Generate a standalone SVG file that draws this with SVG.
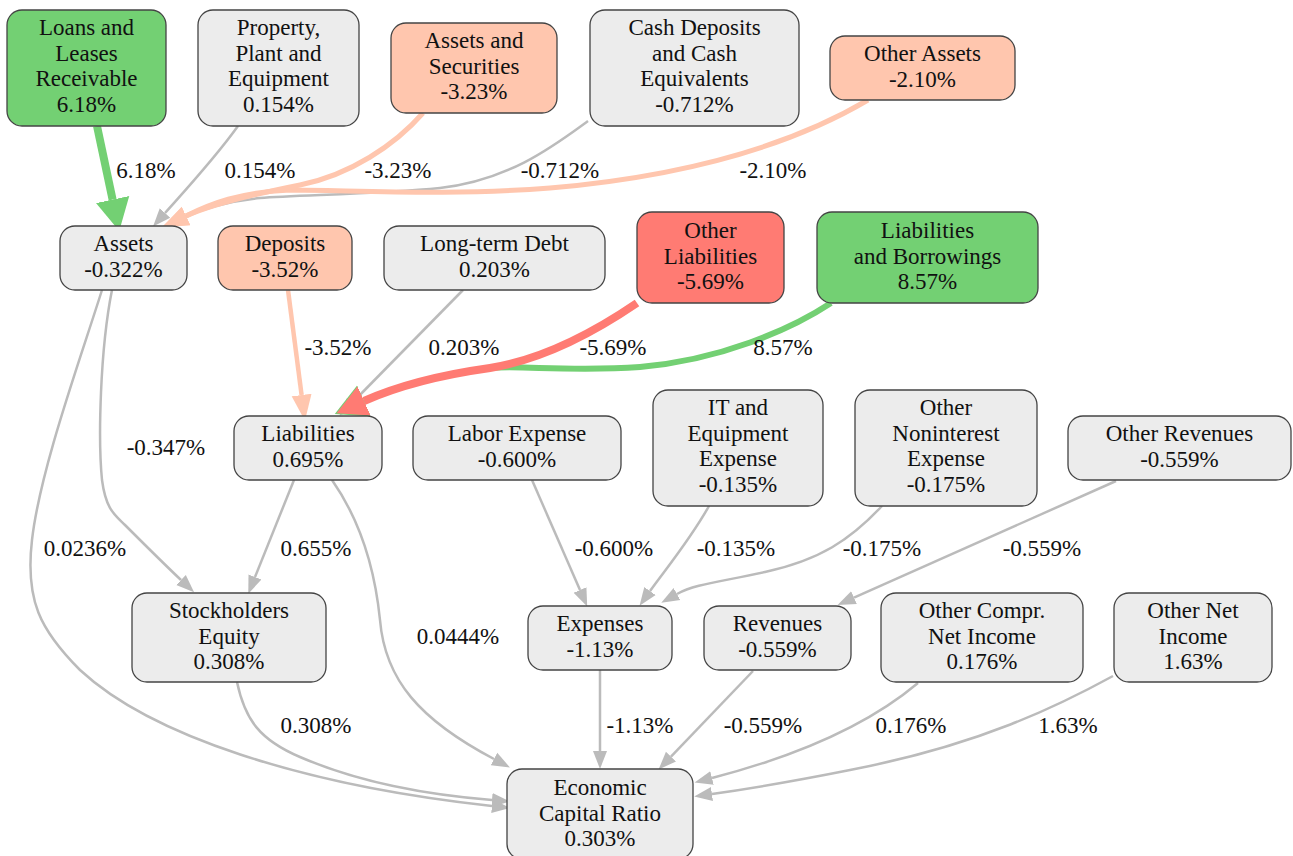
<svg xmlns="http://www.w3.org/2000/svg" width="1293" height="856" viewBox="0 0 1293 856" font-family="'Liberation Serif', 'DejaVu Serif', serif">
<style>
.n rect{stroke:#444;stroke-width:1.3}
.g rect{fill:#ececec}
.gr rect{fill:#73d073}
.sa rect{fill:#ffc6ae}
.rd rect{fill:#ff7b73}
text{font-family:'Liberation Serif','DejaVu Serif',serif;font-size:23px;fill:#111;text-anchor:middle}
.e path{fill:none}
.eg{stroke:#bbbbbb;stroke-width:2.5}
.es{stroke:#ffc6ae}
.egr{stroke:#73d073}
.erd{stroke:#ff7b73}
</style>
<defs>
<marker id="mg" markerUnits="userSpaceOnUse" viewBox="0 -8 19 16" markerWidth="19" markerHeight="16" refX="0" refY="0" orient="auto"><polygon points="0,-7 18,0 0,7" fill="#bbbbbb"/></marker>
<marker id="ms" markerUnits="userSpaceOnUse" viewBox="0 -12 27 24" markerWidth="27" markerHeight="24" refX="0" refY="0" orient="auto"><polygon points="0,-10 26,0 0,10" fill="#ffc6ae"/></marker>
<marker id="mgr" markerUnits="userSpaceOnUse" viewBox="0 -18 33 36" markerWidth="33" markerHeight="36" refX="0" refY="0" orient="auto"><polygon points="0,-17 32,0 0,17" fill="#73d073"/></marker>
<marker id="mrd" markerUnits="userSpaceOnUse" viewBox="0 -17 31 34" markerWidth="31" markerHeight="34" refX="0" refY="0" orient="auto"><polygon points="0,-16 30,0 0,16" fill="#ff7b73"/></marker>
</defs>

<g id="connectors" class="e">
<path class="eg" d="M588,121 C555,145 510,180 440,188 C380,194 300,195 260,198 C230,201 205,208 184,217" marker-end="url(#mg)"/>
<path class="es" stroke-width="5" d="M868,100 C800,140 700,175 550,188 C450,196 350,190 290,190 C240,192 210,204 186,216" marker-end="url(#ms)"/>
<path class="es" stroke-width="5" d="M423,113 C395,145 350,175 300,185 C260,193 215,203 186,216" marker-end="url(#ms)"/>
<path class="eg" d="M238,126 C215,158 190,185 165,213" marker-end="url(#mg)"/>
<path class="egr" stroke-width="8" d="M97,126 L112.6,199.6" marker-end="url(#mgr)"/>
<path class="es" stroke-width="4.5" d="M288,290 L301.6,395" marker-end="url(#ms)"/>
<path class="eg" d="M463,290 L352,403" marker-end="url(#mg)"/>
<path class="egr" stroke-width="6" d="M831,303 C790,330 720,360 640,367 C570,372 520,365 490,368 C440,375 400,385 364,401" marker-end="url(#mgr)"/>
<path class="erd" stroke-width="8" d="M637,303 C590,335 540,360 490,368 C440,375 400,385 364,401" marker-end="url(#mrd)"/>
<path class="eg" d="M112,290 C100,350 98,440 102,480 C106,510 115,515 125,525 C145,545 163,563 181,580" marker-end="url(#mg)"/>
<path class="eg" d="M102,290 C80,360 40,470 32,540 C25,600 40,630 80,670 C150,735 300,785 492,806" marker-end="url(#mg)"/>
<path class="eg" d="M294,480 L255,577" marker-end="url(#mg)"/>
<path class="eg" d="M332,480 C360,520 375,570 380,620 C385,680 420,720 494,759" marker-end="url(#mg)"/>
<path class="eg" d="M237,682 C245,720 260,740 300,757 C360,783 430,795 492,800" marker-end="url(#mg)"/>
<path class="eg" d="M532,480 L580,590" marker-end="url(#mg)"/>
<path class="eg" d="M709,506 C690,540 665,570 650,591" marker-end="url(#mg)"/>
<path class="eg" d="M882,506 C850,540 820,560 765,572 C720,582 695,584 677,594" marker-end="url(#mg)"/>
<path class="eg" d="M1116,481 L854,597.6" marker-end="url(#mg)"/>
<path class="eg" d="M600,670 L600,751" marker-end="url(#mg)"/>
<path class="eg" d="M753,671 L671,756.6" marker-end="url(#mg)"/>
<path class="eg" d="M918,683 C880,715 820,750 712,778" marker-end="url(#mg)"/>
<path class="eg" d="M1113,676 C1060,705 980,745 850,770 C790,782 740,790 712,794" marker-end="url(#mg)"/>
<text x="146" y="177.5">6.18%</text>
<text x="260" y="177.5">0.154%</text>
<text x="398" y="177.5">-3.23%</text>
<text x="560" y="177.5">-0.712%</text>
<text x="773" y="177.5">-2.10%</text>
<text x="338" y="354.5">-3.52%</text>
<text x="464" y="354.5">0.203%</text>
<text x="613" y="354.5">-5.69%</text>
<text x="783" y="354.5">8.57%</text>
<text x="166" y="454.5">-0.347%</text>
<text x="85" y="555.5">0.0236%</text>
<text x="316" y="555.5">0.655%</text>
<text x="614" y="555.5">-0.600%</text>
<text x="736" y="555.5">-0.135%</text>
<text x="882" y="555.5">-0.175%</text>
<text x="1042" y="555.5">-0.559%</text>
<text x="458" y="643.5">0.0444%</text>
<text x="316" y="732.5">0.308%</text>
<text x="640" y="732.5">-1.13%</text>
<text x="763" y="732.5">-0.559%</text>
<text x="911" y="732.5">0.176%</text>
<text x="1068" y="732.5">1.63%</text>
</g>

<g id="loans" class="n gr"><rect x="7" y="10" width="159" height="116" rx="15"/><text><tspan x="86.5" y="35">Loans and</tspan><tspan x="86.5" y="60.6">Leases</tspan><tspan x="86.5" y="86.2">Receivable</tspan><tspan x="86.5" y="111.8">6.18%</tspan></text></g>
<g id="ppe" class="n g"><rect x="198" y="10" width="161" height="116" rx="15"/><text><tspan x="278.5" y="35">Property,</tspan><tspan x="278.5" y="60.6">Plant and</tspan><tspan x="278.5" y="86.2">Equipment</tspan><tspan x="278.5" y="111.8">0.154%</tspan></text></g>
<g id="assets-securities" class="n sa"><rect x="391" y="23" width="166" height="90" rx="15"/><text><tspan x="474" y="48">Assets and</tspan><tspan x="474" y="73.6">Securities</tspan><tspan x="474" y="99.2">-3.23%</tspan></text></g>
<g id="cash" class="n g"><rect x="590" y="10" width="209" height="116" rx="15"/><text><tspan x="694.5" y="35">Cash Deposits</tspan><tspan x="694.5" y="60.6">and Cash</tspan><tspan x="694.5" y="86.2">Equivalents</tspan><tspan x="694.5" y="111.8">-0.712%</tspan></text></g>
<g id="other-assets" class="n sa"><rect x="830" y="36" width="185" height="64" rx="15"/><text><tspan x="922.5" y="61.2">Other Assets</tspan><tspan x="922.5" y="86.8">-2.10%</tspan></text></g>
<g id="assets" class="n g"><rect x="60" y="226" width="127" height="64" rx="15"/><text><tspan x="123.5" y="251.2">Assets</tspan><tspan x="123.5" y="276.8">-0.322%</tspan></text></g>
<g id="deposits" class="n sa"><rect x="218" y="226" width="134" height="64" rx="15"/><text><tspan x="285" y="251.2">Deposits</tspan><tspan x="285" y="276.8">-3.52%</tspan></text></g>
<g id="ltd" class="n g"><rect x="384" y="226" width="221" height="64" rx="15"/><text><tspan x="494.5" y="251.2">Long-term Debt</tspan><tspan x="494.5" y="276.8">0.203%</tspan></text></g>
<g id="other-liabilities" class="n rd"><rect x="637" y="212" width="147" height="91" rx="15"/><text><tspan x="710.5" y="237.9">Other</tspan><tspan x="710.5" y="263.5">Liabilities</tspan><tspan x="710.5" y="289.1">-5.69%</tspan></text></g>
<g id="liab-borrowings" class="n gr"><rect x="817" y="212" width="221" height="91" rx="15"/><text><tspan x="927.5" y="237.9">Liabilities</tspan><tspan x="927.5" y="263.5">and Borrowings</tspan><tspan x="927.5" y="289.1">8.57%</tspan></text></g>
<g id="liabilities" class="n g"><rect x="234" y="416" width="148" height="64" rx="15"/><text><tspan x="308" y="441.2">Liabilities</tspan><tspan x="308" y="466.8">0.695%</tspan></text></g>
<g id="labor" class="n g"><rect x="413" y="416" width="208" height="64" rx="15"/><text><tspan x="517" y="441.2">Labor Expense</tspan><tspan x="517" y="466.8">-0.600%</tspan></text></g>
<g id="it" class="n g"><rect x="653" y="390" width="170" height="116" rx="15"/><text><tspan x="738" y="415">IT and</tspan><tspan x="738" y="440.6">Equipment</tspan><tspan x="738" y="466.2">Expense</tspan><tspan x="738" y="491.8">-0.135%</tspan></text></g>
<g id="noninterest" class="n g"><rect x="855" y="390" width="182" height="116" rx="15"/><text><tspan x="946" y="415">Other</tspan><tspan x="946" y="440.6">Noninterest</tspan><tspan x="946" y="466.2">Expense</tspan><tspan x="946" y="491.8">-0.175%</tspan></text></g>
<g id="other-revenues" class="n g"><rect x="1068" y="416" width="223" height="64" rx="15"/><text><tspan x="1179.5" y="441.2">Other Revenues</tspan><tspan x="1179.5" y="466.8">-0.559%</tspan></text></g>
<g id="equity" class="n g"><rect x="132" y="593" width="194" height="89" rx="15"/><text><tspan x="229" y="618.2">Stockholders</tspan><tspan x="229" y="643.8">Equity</tspan><tspan x="229" y="669.4">0.308%</tspan></text></g>
<g id="expenses" class="n g"><rect x="528" y="606" width="144" height="64" rx="15"/><text><tspan x="600" y="631.2">Expenses</tspan><tspan x="600" y="656.8">-1.13%</tspan></text></g>
<g id="revenues" class="n g"><rect x="704" y="606" width="147" height="64" rx="15"/><text><tspan x="777.5" y="631.2">Revenues</tspan><tspan x="777.5" y="656.8">-0.559%</tspan></text></g>
<g id="ocni" class="n g"><rect x="881" y="593" width="202" height="89" rx="15"/><text><tspan x="982" y="618.2">Other Compr.</tspan><tspan x="982" y="643.8">Net Income</tspan><tspan x="982" y="669.4">0.176%</tspan></text></g>
<g id="oni" class="n g"><rect x="1114" y="593" width="158" height="89" rx="15"/><text><tspan x="1193" y="618.2">Other Net</tspan><tspan x="1193" y="643.8">Income</tspan><tspan x="1193" y="669.4">1.63%</tspan></text></g>
<g id="ecr" class="n g"><rect x="507" y="769" width="186" height="90" rx="15"/><text><tspan x="600" y="795.2">Economic</tspan><tspan x="600" y="820.8">Capital Ratio</tspan><tspan x="600" y="846.4">0.303%</tspan></text></g>
</svg>
